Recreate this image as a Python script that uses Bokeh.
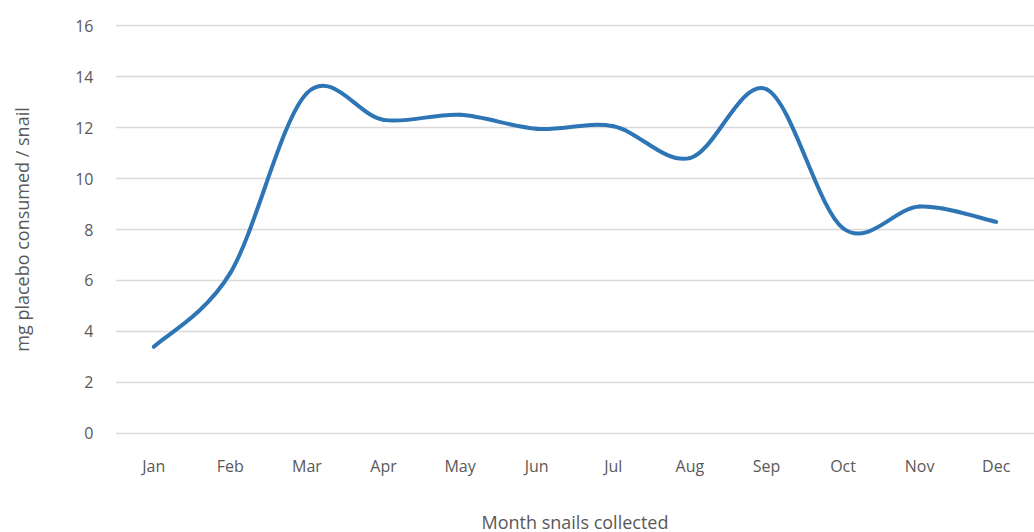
from bokeh.plotting import figure
from bokeh.models import FixedTicker, ColumnDataSource, Range1d
from bokeh.embed import file_html
from bokeh.resources import INLINE

months = ["Jan", "Feb", "Mar", "Apr", "May", "Jun", "Jul", "Aug", "Sep", "Oct", "Nov", "Dec"]
consumed = [3.4, 6.3, 13.35, 12.3, 12.5, 11.95, 12.05, 10.8, 13.5, 8.05, 8.9, 8.3]
y_ticks = [0, 2, 4, 6, 8, 10, 12, 14, 16]

xs = list(range(1, len(months) + 1))
n = len(xs)

# Smoothed line (Excel-style cubic Bezier segments through the data points)
x0, y0, x1, y1, cx0, cy0, cx1, cy1 = [], [], [], [], [], [], [], []
for i in range(n - 1):
    ip = max(i - 1, 0)
    inn = min(i + 2, n - 1)
    x0.append(xs[i]); y0.append(consumed[i])
    x1.append(xs[i + 1]); y1.append(consumed[i + 1])
    cx0.append(xs[i] + (xs[i + 1] - xs[ip]) / 6.0)
    cy0.append(consumed[i] + (consumed[i + 1] - consumed[ip]) / 6.0)
    cx1.append(xs[i + 1] - (xs[inn] - xs[i]) / 6.0)
    cy1.append(consumed[i + 1] - (consumed[inn] - consumed[i]) / 6.0)

src = ColumnDataSource(dict(x0=x0, y0=y0, x1=x1, y1=y1, cx0=cx0, cy0=cy0, cx1=cx1, cy1=cy1))

p = figure(width=1034, height=532, output_backend="svg", toolbar_location=None,
           x_range=Range1d(0.5, 12.5), y_range=Range1d(-0.04, 16.04),
           frame_width=919, frame_height=410,
           min_border_left=115, min_border_right=0, min_border_top=24, min_border_bottom=90)
p.outline_line_color = None
p.background_fill_color = "white"
p.border_fill_color = "white"

p.bezier(x0="x0", y0="y0", x1="x1", y1="y1", cx0="cx0", cy0="cy0", cx1="cx1", cy1="cy1",
         source=src, line_color="#2E75B6", line_width=4, line_cap="round")

font = "Open Sans"
p.xaxis.ticker = FixedTicker(ticks=xs)
p.xaxis.major_label_overrides = {x: m for x, m in zip(xs, months)}
p.yaxis.ticker = FixedTicker(ticks=y_ticks)
for ax in (p.xaxis, p.yaxis):
    ax.axis_line_color = None
    ax.major_tick_line_color = None
    ax.minor_tick_line_color = None
    ax.major_label_text_font = font
    ax.major_label_text_font_size = "16px"
    ax.major_label_text_color = "#595959"
    ax.axis_label_text_font = font
    ax.axis_label_text_font_size = "18px"
    ax.axis_label_text_font_style = "normal"
    ax.axis_label_text_color = "#595959"

p.xaxis.axis_label = "Month snails collected"
p.yaxis.axis_label = "mg placebo consumed / snail"
p.xaxis.major_label_standoff = 14
p.xaxis.axis_label_standoff = 30
p.yaxis.major_label_standoff = 16
p.yaxis.axis_label_standoff = 38

p.xgrid.grid_line_color = None
p.ygrid.grid_line_color = "#D9D9D9"
p.ygrid.grid_line_width = 1.5

open("out.html", "w").write(file_html(p, INLINE))
